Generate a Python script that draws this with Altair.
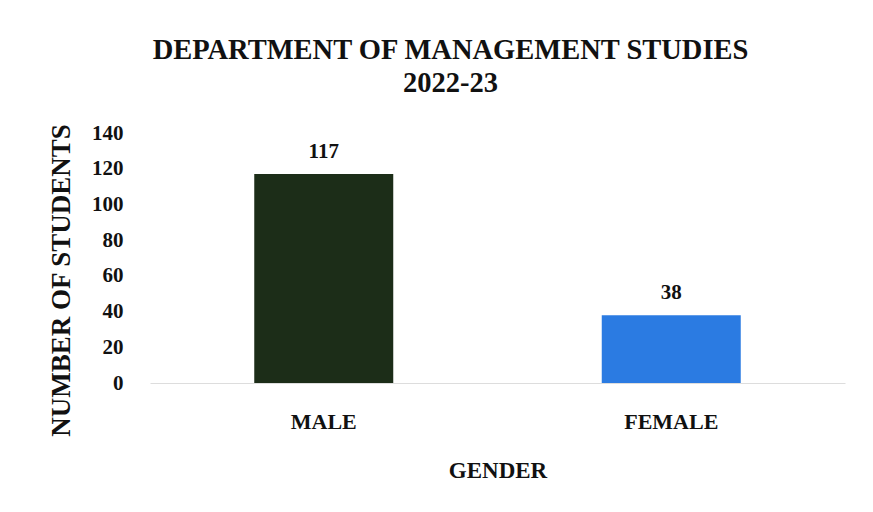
import altair as alt
import pandas as pd

genders = ["MALE", "FEMALE"]
students = [117, 38]
colors = ["#1c2d18", "#2b7be2"]

df = pd.DataFrame({"gender": genders, "students": students})
FONT = "Liberation Serif"

base = alt.Chart(df).encode(
    x=alt.X("gender:N", sort=genders,
            scale=alt.Scale(paddingInner=0.6, paddingOuter=0.3),
            axis=alt.Axis(title="GENDER", labelAngle=0, labelFont=FONT, labelFontSize=22,
                          labelFontWeight="bold", labelColor="#111", labelPadding=28,
                          titleFont=FONT, titleFontSize=23, titleFontWeight="bold",
                          titleColor="#111", titlePadding=27, ticks=False,
                          domainColor="#dddddd", domainWidth=1)),
    y=alt.Y("students:Q", scale=alt.Scale(domain=[0, 140]),
            axis=alt.Axis(title="NUMBER OF STUDENTS", values=list(range(0, 141, 20)),
                          labelFont=FONT, labelFontSize=21, labelFontWeight="bold",
                          labelColor="#111", labelPadding=27, grid=False, domain=False,
                          ticks=False, titleFont=FONT, titleFontSize=27,
                          titleFontWeight="bold", titleColor="#111", titlePadding=16,
                          titleY=147)),
)

bars = base.mark_bar().encode(
    color=alt.Color("gender:N", scale=alt.Scale(domain=genders, range=colors), legend=None)
)
labels = base.mark_text(baseline="bottom", dy=-12, font=FONT, fontSize=21,
                        fontWeight="bold", color="#111").encode(text="students:Q")

chart = (bars + labels).properties(
    width=695, height=250,
    autosize=alt.AutoSizeParams(type="none"),
    padding={"left": 142, "top": 125, "right": 20, "bottom": 120},
    title=alt.TitleParams(["DEPARTMENT OF MANAGEMENT STUDIES", "2022-23"], font=FONT,
                          fontSize=28.5, fontWeight="bold", color="#111", anchor="middle",
                          dx=-47, offset=25, lineHeight=33),
).configure_view(stroke=None)

chart.save("out.html", embed_options={"renderer": "svg", "actions": False})
